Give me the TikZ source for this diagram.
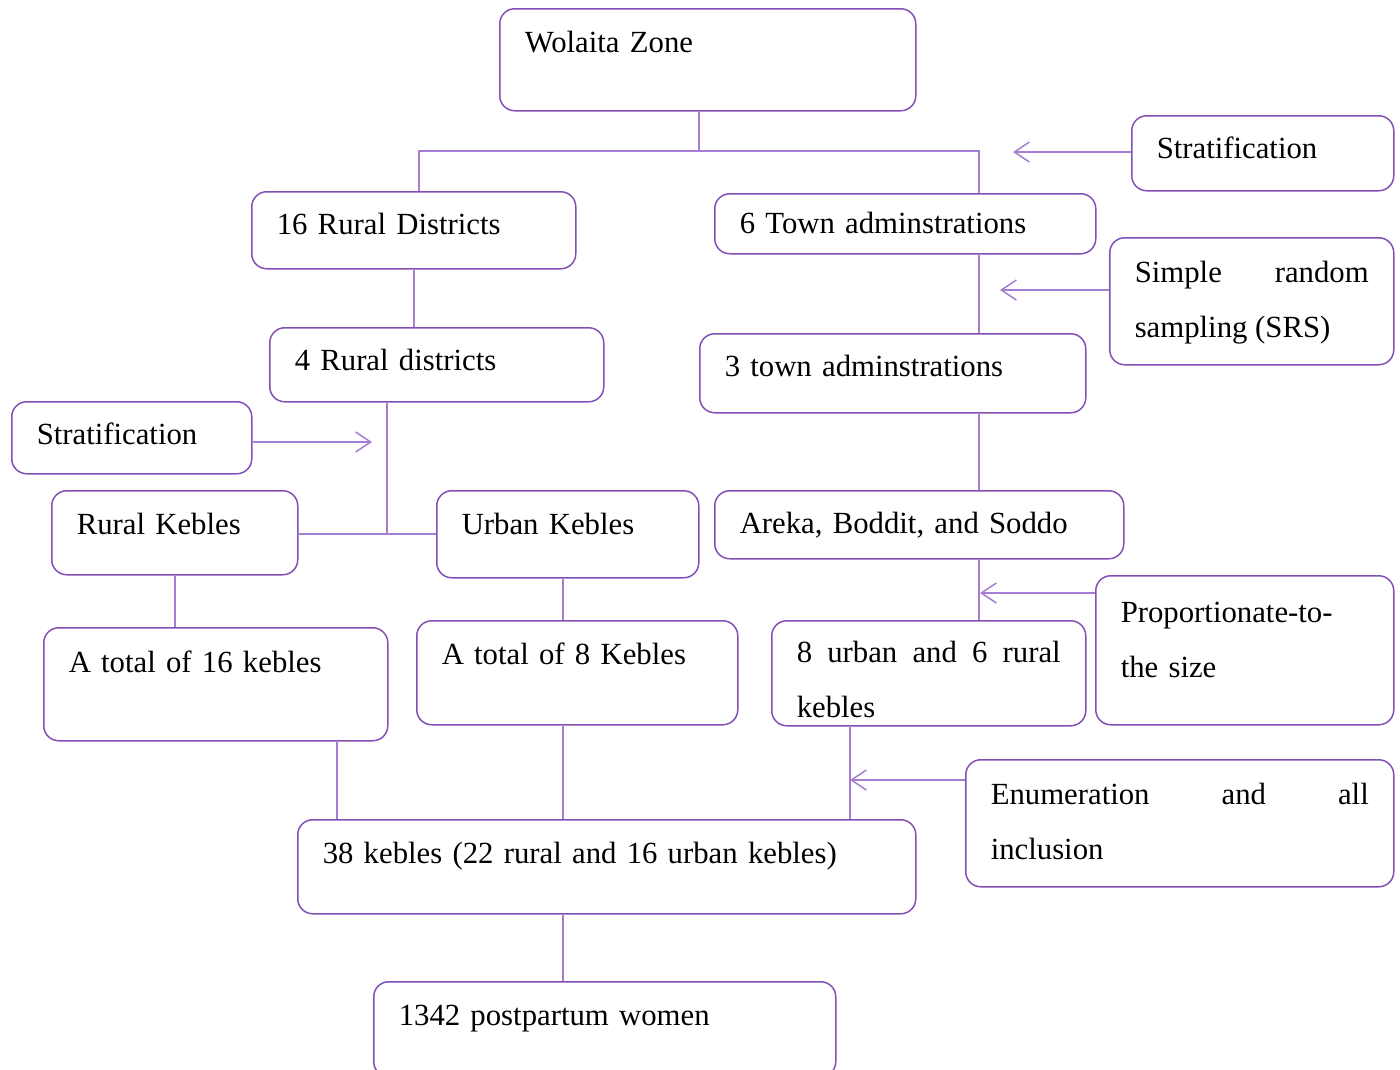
\documentclass[tikz,border=0pt]{standalone}
\usepackage{fontspec}
\setmainfont{Liberation Serif}
\usetikzlibrary{arrows.meta}

\definecolor{boxline}{RGB}{130,80,180}
\definecolor{linkline}{RGB}{165,125,210}

\begin{document}
\begin{tikzpicture}[x=0.4pt, y=-0.4pt,
    box/.style={draw=boxline, line width=0.6pt, rounded corners=6pt, anchor=north west,
        align=left, inner xsep=10pt, inner ysep=0pt,
        font=\fontsize{12.3pt}{22pt}\selectfont},
    link/.style={draw=linkline, line width=0.6pt},
    pointer/.style={link, -{Straight Barb[length=6pt, width=8pt]}}]

    \useasboundingbox (0,0) rectangle (1400,1069);
    \clip (0,0) rectangle (1400,1069);

    % main column of boxes
    \node[box, text width=146.4pt, text height=17.6pt, text depth=23.2pt] (zone) at (499,8) {Wolaita Zone};
    \node[box, text width=109.6pt, text height=17.2pt, text depth=13.6pt] (rural16) at (251,191) {16 Rural Districts};
    \node[box, text width=132.4pt, text height=16pt, text depth=8pt] (town6) at (714,193) {6 Town adminstrations};
    \node[box, text width=113.6pt, text height=17.2pt, text depth=12.4pt] (rural4) at (269,327) {4 Rural districts};
    \node[box, text width=134.4pt, text height=17.2pt, text depth=14.4pt] (town3) at (699,333) {3 town adminstrations};
    \node[box, text width=78.4pt, text height=17.6pt, text depth=16pt] (rkeb) at (51,490) {Rural Kebles};
    \node[box, text width=84.8pt, text height=17.6pt, text depth=17.2pt] (ukeb) at (436,490) {Urban Kebles};
    \node[box, text width=143.6pt, text height=17.2pt, text depth=10pt] (areka) at (714,490) {Areka, Boddit, and Soddo};
    \node[box, text width=117.6pt, text height=18pt, text depth=27.2pt] (tot16) at (43,627) {A total of 16 kebles};
    \node[box, text width=108.4pt, text height=17.6pt, text depth=24pt] (tot8) at (416,620) {A total of 8 Kebles};
    \node[box, align=justify, text width=105.6pt, text height=16.8pt, text depth=25.2pt] (urru) at (771,620)
        {8\hfill urban\hfill and\hfill 6\hfill rural\\kebles};
    \node[box, text width=227.2pt, text height=17.6pt, text depth=20pt] (keb38) at (297,819) {38 kebles (22 rural and 16 urban kebles)};
    \node[box, text width=164.8pt, text height=17.6pt, text depth=20.4pt] (women) at (373,981) {1342 postpartum women};

    % sampling steps
    \node[box, text width=84.8pt, text height=17.2pt, text depth=12.8pt] (strat1) at (1131,115) {Stratification};
    \node[box, align=justify, text width=93.6pt, text height=18pt, text depth=32.8pt] (srs) at (1109,237)
        {Simple\hfill random\\sampling (SRS)};
    \node[box, text width=76pt, text height=17.2pt, text depth=11.6pt] (strat2) at (11,401) {Stratification};
    \node[box, text width=99.2pt, text height=18.8pt, text depth=40.8pt] (prop) at (1095,575) {Proportionate-to-\\the size};
    \node[box, align=justify, text width=151.2pt, text height=18pt, text depth=32.8pt] (enum) at (965,759)
        {Enumeration\hfill and\hfill all\\inclusion};

    % tree lines
    \coordinate (split) at (699,151);
    \draw[link] (zone.south -| split) -- (split);
    \draw[link] (rural16.north -| 419,0) |- (split) -| (town6.north -| 979,0);
    \draw[link] (rural16.south) -- (rural16.south |- rural4.north);
    \draw[link] (town6.south -| 979,0) -- (town3.north -| 979,0);
    \draw[link] (town3.south -| 979,0) -- (areka.north -| 979,0);
    \draw[link] (areka.south -| 979,0) -- (urru.north -| 979,0);
    \coordinate (join) at (387,534);
    \draw[link] (rural4.south -| join) -- (join);
    \draw[link] (rkeb.east |- join) -- (ukeb.west |- join);
    \draw[link] (rkeb.south) -- (rkeb.south |- tot16.north);
    \draw[link] (ukeb.south -| 563,0) -- (tot8.north -| 563,0);
    \draw[link] (tot16.south -| 337,0) -- (keb38.north -| 337,0);
    \draw[link] (tot8.south -| 563,0) -- (keb38.north -| 563,0);
    \draw[link] (urru.south -| 850,0) -- (keb38.north -| 850,0);
    \draw[link] (keb38.south -| 563,0) -- (women.north -| 563,0);

    % arrows from the sampling steps
    \draw[pointer] (strat1.west |- 0,152) -- (1013,152);
    \draw[pointer] (srs.west |- 0,290) -- (1000,290);
    \draw[pointer] (strat2.east |- 0,442) -- (372,442);
    \draw[pointer] (prop.west |- 0,593) -- (980,593);
    \draw[pointer] (enum.west |- 0,780) -- (850,780);
\end{tikzpicture}
\end{document}
